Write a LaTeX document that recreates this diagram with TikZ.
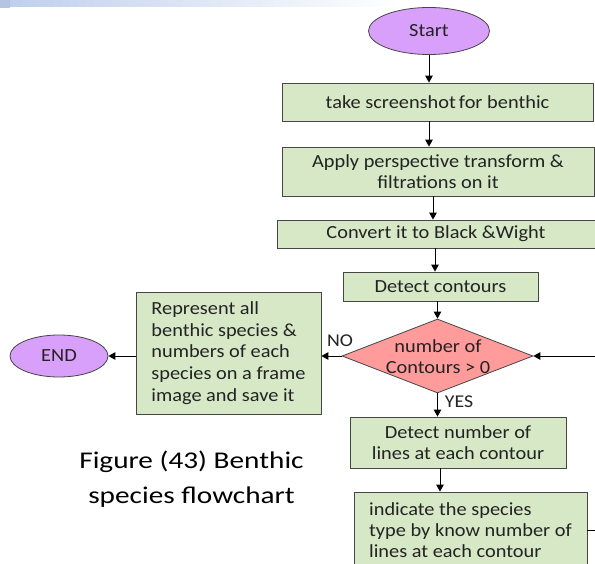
\documentclass[tikz,border=0pt]{standalone}
\usepackage{fontspec}
\setmainfont{Carlito}
\newfontfamily\boxfont[FakeStretch=1.1]{Carlito}
\newfontfamily\capfont[FakeStretch=1.22]{Carlito}
\usetikzlibrary{shapes.geometric,arrows.meta,calc}
\definecolor{boxgreen}{RGB}{215,232,199}
\definecolor{boxline}{RGB}{70,70,70}
\definecolor{diared}{RGB}{255,155,155}
\definecolor{ellpurple}{RGB}{216,160,250}
\definecolor{txt}{RGB}{35,35,35}
\definecolor{bandblue}{RGB}{190,206,236}
\begin{document}
\begin{tikzpicture}[x=1pt,y=-1pt,
  stepbox/.style={draw=boxline, fill=boxgreen, line width=0.8pt, inner sep=0pt,
    font=\boxfont\fontsize{18.5}{21}\selectfont, text=txt, align=center},
  term/.style={ellipse, draw=boxline, fill=ellpurple, line width=0.8pt, inner sep=0pt,
    font=\boxfont\fontsize{18.5}{21}\selectfont, text=txt},
  decision/.style={diamond, draw=boxline, fill=diared, line width=0.8pt, inner sep=0pt},
  dtext/.style={font=\boxfont\fontsize{18.5}{21}\selectfont, text=txt, align=center, inner sep=0pt},
  lbl/.style={font=\boxfont\fontsize{18}{20}\selectfont, text=txt, inner sep=0pt},
  arr/.style={draw=black, line width=0.9pt, -{Triangle[length=7pt,width=7.5pt]}}
]
\useasboundingbox (0,0) rectangle (595,564);
\clip (0,0) rectangle (595,564);
\fill[white] (0,0) rectangle (595,564);
\shade[left color=bandblue, right color=white] (0,0) rectangle (400,7);
\fill[bandblue!95!black] (0,0) rectangle (10,8);

\node[term, minimum width=121pt, minimum height=47pt] (start) at (429,31) {Start};
\node[stepbox, minimum width=311pt, minimum height=38pt] (b1) at (437.5,102) {take screenshot\,for benthic};
\node[stepbox, minimum width=312pt, minimum height=49pt] (b2) at (438,171.5) {Apply perspective transform \&\\filtrations on it};
\node[stepbox, minimum width=318pt, minimum height=28pt] (b3) at (436,234) {Convert it to Black \&Wight};
\node[stepbox, minimum width=195pt, minimum height=29pt] (dc) at (440.5,286.5) {Detect contours};
\node[decision, minimum width=191pt, minimum height=74pt] (dia) at (437.5,356) {};
\node[dtext] (diatext) at (438,357) {number of\\Contours > 0};
\node[stepbox, font=\boxfont\fontsize{18.5}{21.7}\selectfont, align=left,
  minimum width=185pt, minimum height=122pt] (rep) at (228.5,353)
  {Represent all\\benthic species \&\\numbers of each\\species on a frame\\image and save it};
\node[term, minimum width=98pt, minimum height=42pt] (end) at (59,356) {END};
\node[stepbox, minimum width=216pt, minimum height=51pt] (dn) at (458,442.5) {Detect number of\\lines at each contour};
\node[stepbox, align=left, minimum width=233pt, minimum height=76pt] (ind) at (470.5,530)
  {indicate the species\\type by know number of\\lines at each contour};
\node[font=\capfont\fontsize{24}{35}\selectfont, align=center, text=black] (cap) at (191.5,479.5) {Figure (43) Benthic\\species flowchart};

\node[lbl] (no) at (340,341) {NO};
\node[lbl] (yes) at (459,402) {YES};

\coordinate (loopA) at (615,530);

\draw[arr] (start.south) -- (start.south |- b1.north);
\draw[arr] ([xshift=-8.5pt]b1.south) -- ([xshift=-8.5pt]b1.south |- b2.north);
\draw[arr] ([xshift=-5pt]b2.south) -- ([xshift=-5pt]b2.south |- b3.north);
\draw[arr] ([xshift=-1pt]b3.south) -- ([xshift=-1pt]b3.south |- dc.north);
\draw[arr] (dia.north |- dc.south) -- (dia.north);
\draw[arr] (dia.south) -- (dia.south |- dn.north);
\draw[arr] ([xshift=-18pt]dn.south) -- ([xshift=-18pt]dn.south |- ind.north);
\draw[arr] (dia.west) -- (dia.west -| rep.east);
\draw[arr] (rep.west |- end.east) -- (end.east);
\draw[arr] (ind.east) -- (loopA) |- (dia.east);
\end{tikzpicture}
\end{document}
